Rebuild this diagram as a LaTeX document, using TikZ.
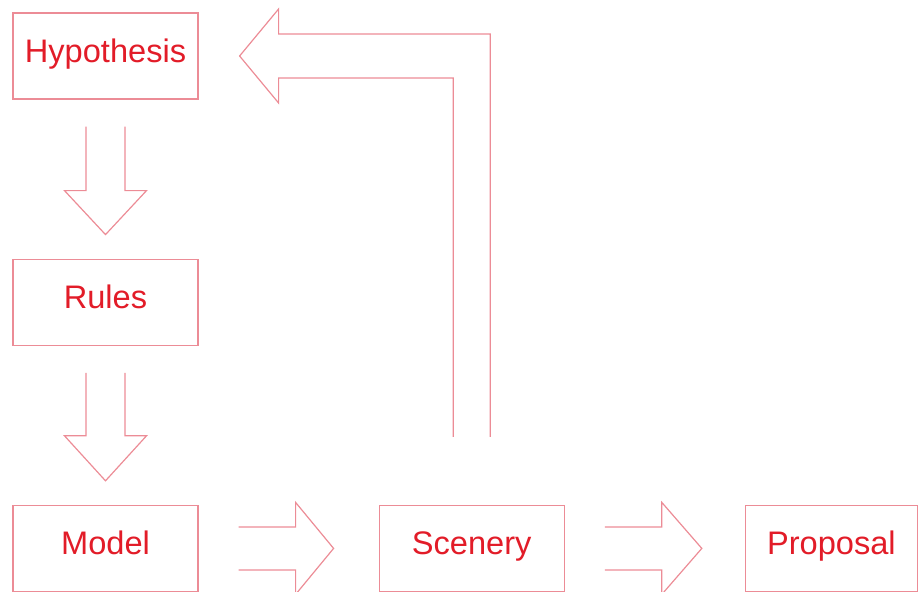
\documentclass[tikz,border=0pt]{standalone}
\usepackage{fontspec}
\setmainfont{Liberation Sans}
\usetikzlibrary{positioning,calc}
\definecolor{boxline}{RGB}{236,140,150}
\definecolor{boxtext}{RGB}{226,28,40}

\begin{document}
\begin{tikzpicture}[
  x=0.5pt, y=0.5pt,
  node distance=79.5pt and 90pt,
  stage/.style={draw=boxline, line width=0.6pt, text=boxtext, font=\fontsize{16.3}{18}\selectfont, minimum width=92.5pt, minimum height=43pt, inner sep=0pt, text height=12pt, text depth=6pt},
  blk/.style={draw=boxline, line width=0.6pt, line join=miter}
]
  \useasboundingbox (0,0) rectangle (920,591);
  \node[stage] (hyp) at (105.5,535) {Hypothesis};
  \node[stage, below=of hyp] (rules) {Rules};
  \node[stage, below=of rules] (model) {Model};
  \node[stage, right=of model] (scen) {Scenery};
  \node[stage, right=of scen, minimum width=86pt] (prop) {Proposal};

  % downward block arrows
  \draw[blk] ($(hyp.south)+(-19.5,-27)$) -- ++(0,-64) -- ++(-21.5,0) -- ++(41,-44) -- ++(41,44) -- ++(-21.5,0) -- ++(0,64);
  \draw[blk] ($(rules.south)+(-19.5,-27)$) -- ++(0,-63) -- ++(-21.5,0) -- ++(41,-45) -- ++(41,45) -- ++(-21.5,0) -- ++(0,63);
  % rightward block arrows
  \draw[blk] ($(model.east)+(40,21.5)$) -- ++(57,0) -- ++(0,24.5) -- ++(38,-46) -- ++(-38,-46) -- ++(0,24.5) -- ++(-57,0);
  \draw[blk] ($(scen.east)+(40,21.5)$) -- ++(57,0) -- ++(0,24.5) -- ++(40,-46) -- ++(-40,-46) -- ++(0,24.5) -- ++(-57,0);
  % feedback arrow back to the hypothesis
  \draw[blk] ($(scen.north)+(-18.5,68)$) |- ($(hyp.east)+(80,-22)$) -- ++(0,-25) -- ++(-39,47) -- ++(39,47) -- ++(0,-25) -| ($(scen.north)+(18.5,68)$);
\end{tikzpicture}
\end{document}
